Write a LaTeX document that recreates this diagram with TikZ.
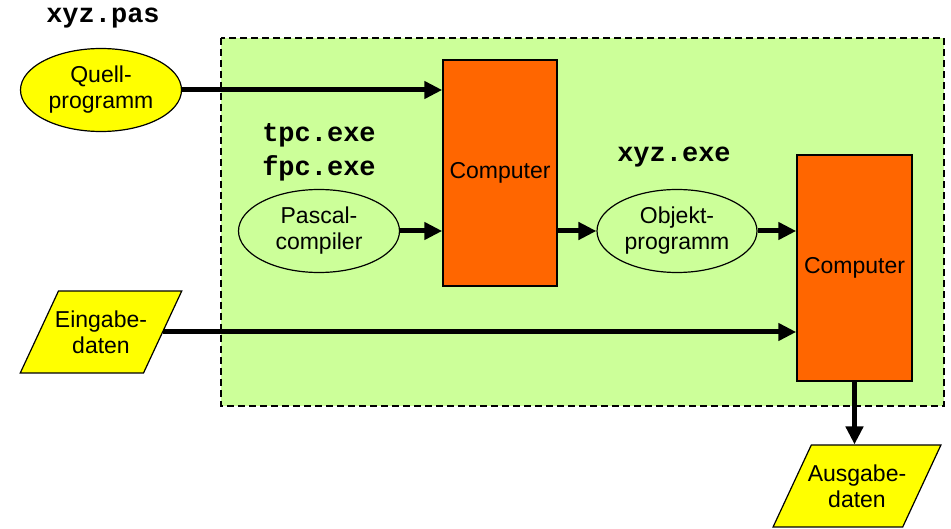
\documentclass[tikz,border=0pt]{standalone}
\usepackage{fontspec}
\setmainfont{Liberation Sans}
\setmonofont{Liberation Mono}
\usetikzlibrary{positioning,shapes.geometric,arrows.meta}

\definecolor{gruen}{HTML}{CCFF99}
\definecolor{orange}{HTML}{FF6600}
\definecolor{gelb}{HTML}{FFFF00}

\begin{document}
\begin{tikzpicture}[x=1pt, y=-1pt,
	font=\fontsize{23}{26}\selectfont,
	rechner/.style= {rectangle, draw, line width=1.5pt, fill=orange, minimum width=114pt, minimum height=226pt, inner sep=0pt},
	prog/.style= {ellipse, draw, line width=1.2pt, minimum width=161pt, minimum height=83pt, inner sep=0pt, align=center},
	daten/.style= {trapezium, trapezium left angle=65, trapezium right angle=115, trapezium stretches body, draw, line width=1.2pt, fill=gelb, minimum width=161pt, inner xsep=-3.5pt, inner ysep=19.5pt, align=center},
	datei/.style= {font=\fontsize{27}{30}\selectfont\ttfamily\bfseries},
	pfeil/.style= {line width=5pt, -{Triangle[length=18pt,width=17pt]}}]
	\path[use as bounding box] (0,0) rectangle (951,529);
	% Rahmen
	\draw[dash pattern=on 7pt off 4pt, line width=1.5pt, fill=gruen] (221,38) rectangle (944,406);

	\node[rechner] (comp1) at (500,173) {Computer};
	\node[rechner, minimum width=115pt] (comp2) at (854.5,268) {Computer};
	\node[prog, fill=gelb] (quell) at (101,90) {Quell-\\programm};
	\node[prog, fill=gruen] (pascal) at (319,231) {Pascal-\\compiler};
	\node[prog, fill=gruen, minimum width=160pt] (objekt) at (677,231) {Objekt-\\programm};
	\node[daten] (eingabe) at (101,332) {Eingabe-\\daten};
	\node[daten] (ausgabe) at (857,486) {Ausgabe-\\daten};

	\node[datei] (pas) at (103,18) {xyz.pas};
	\node[datei] (tpc) at (319,135) {tpc.exe};
	\node[datei] (fpc) [below=2pt of tpc] {fpc.exe};
	\node[datei] (exe) at (674,157) {xyz.exe};

	\draw[pfeil] (quell.east) -- (quell.east -| comp1.west);
	\draw[pfeil] (pascal.east) -- (pascal.east -| comp1.west);
	\draw[pfeil] (objekt.west -| comp1.east) -- (objekt.west);
	\draw[pfeil] (objekt.east) -- (objekt.east -| comp2.west);
	\draw[pfeil] (eingabe.east) -- (eingabe.east -| comp2.west);
	\draw[pfeil] (comp2.south) -- (comp2.south |- ausgabe.north);
\end{tikzpicture}
\end{document}
